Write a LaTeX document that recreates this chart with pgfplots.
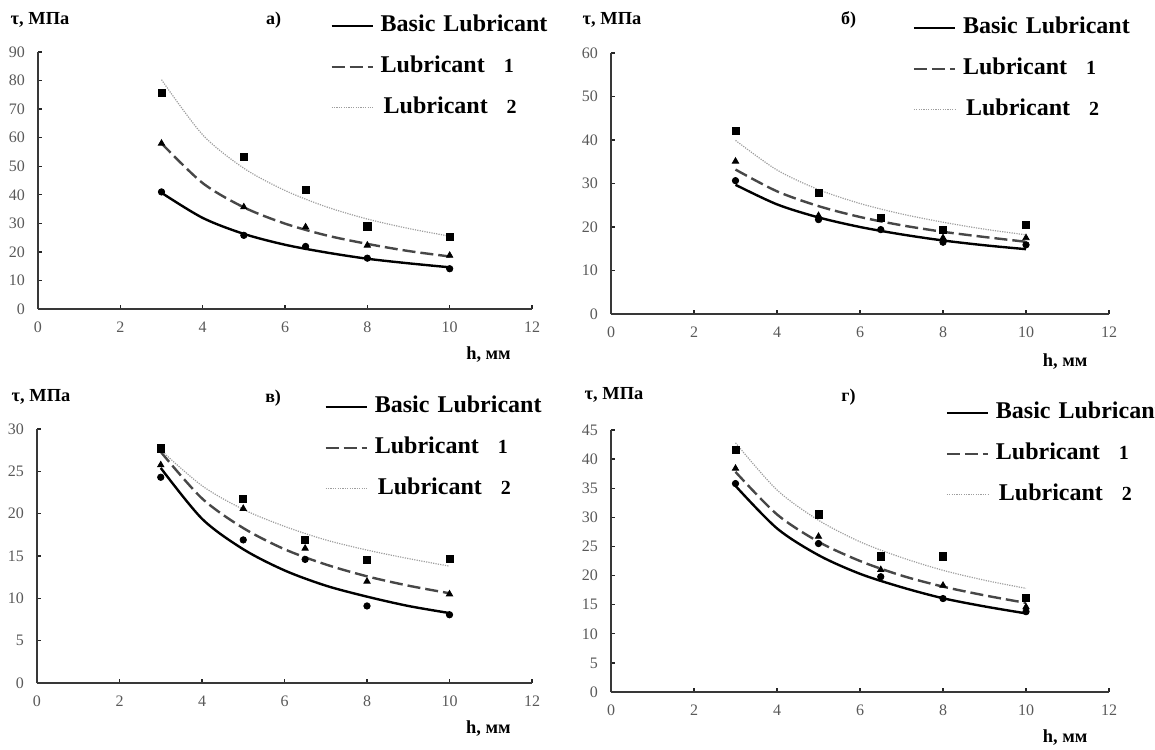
\documentclass[border=0pt]{standalone}
\usepackage{fontspec}
\setmainfont{Liberation Serif}
\usepackage{pgfplots}
\pgfplotsset{compat=1.18}

\pgfplotsset{
 panel/.style={
   scale only axis,
   xmin=0, xmax=12, ymin=0,
   axis x line*=bottom, axis y line*=left,
   axis line style={-, line width=1.1pt, black!78},
   xtick={0,2,...,12},
   tick style={black!85, line width=0.7pt},
   major tick length=2pt,
   tick label style={font=\fontsize{8}{9}\selectfont, text=black!65},
   /pgf/number format/assume math mode=true,
   xticklabel style={yshift=-3pt},
   yticklabel style={xshift=-3pt},
   xlabel={h, мм}, ylabel={τ, МПа},
   every axis title/.style={at={(axis description cs:0.477,1)}, anchor=center, yshift=16pt, font=\bfseries\fontsize{9}{10}\selectfont},
   legend style={draw=none, fill=none, anchor=north west, xshift=-4pt, font=\bfseries\fontsize{12}{13}\selectfont, row sep=9.5pt, column sep=3.5pt, nodes={inner sep=0pt, text height=8.5pt, text depth=2.5pt}},
   legend image code/.code={\draw[#1] (0pt,0pt) -- (20.5pt,0pt);},
   legend cell align=left,
   clip=false,
 },
 ylab/.style 2 args={every axis y label/.style={at={(axis description cs:0,1)}, anchor=center, xshift=#1, yshift=#2, font=\bfseries\fontsize{9.2}{10}\selectfont}},
 xlab/.style={every axis x label/.style={at={(axis description cs:0.912,0)}, anchor=center, yshift=#1, font=\bfseries\fontsize{9.2}{10}\selectfont}},
 basic/.style={black, line width=1.2pt, smooth},
 lubA/.style={black!72, line width=1.2pt, dash pattern=on 6.5pt off 2.5pt, smooth},
 lubB/.style={black!38, line width=0.6pt, dash pattern=on 0.6pt off 0.6pt, smooth},
 mc/.style={only marks, mark=*, mark size=1.6pt, black, forget plot},
 mt/.style={only marks, mark=triangle*, mark size=1.8pt, black, forget plot},
 ms/.style={only marks, mark=square*, mark size=1.8pt, black, forget plot},
}
\newcommand{\legentries}{\legend{Basic\hspace{4pt}Lubricant, Lubricant\hspace{9.5pt}{\fontsize{10}{10}\selectfont 1}, \hspace{1.5pt}Lubricant\hspace{9.5pt}{\fontsize{10}{10}\selectfont 2}}}

\begin{document}
\begin{tikzpicture}
\useasboundingbox (0,0) rectangle (577.5pt,374.5pt);

% ---------- а) ----------
\begin{axis}[panel, at={(19pt,220pt)}, anchor=south west,
  width=247pt, height=128.5pt, ymax=90, ytick={0,10,...,90},
  title={а)}, ylab={1pt}{16pt}, xlab={-23pt},
  legend style={at={(axis description cs:0.595,1)}, yshift=20.8pt}]
\addplot[basic] coordinates {(3,40.7)(4,31.9)(5,26.3)(6,22.5)(7,19.8)(8,17.6)(9,16.0)(10,14.6)};
\addplot[lubA] coordinates {(3,58.0)(4,44.1)(5,35.6)(6,29.9)(7,25.8)(8,22.8)(9,20.3)(10,18.4)};
\addplot[lubB] coordinates {(3,80.3)(4,61.0)(5,49.3)(6,41.5)(7,35.8)(8,31.5)(9,28.2)(10,25.5)};
\addplot[mc] coordinates {(3,41.0)(5,25.8)(6.5,21.9)(8,17.8)(10,14.1)};
\addplot[mt] coordinates {(3,58.0)(5,35.7)(6.5,28.7)(8,22.3)(10,18.75)};
\addplot[ms] coordinates {(3,75.6)(5,53.3)(6.5,41.8)(8,28.9)(10,25.2)};
\legentries
\end{axis}

% ---------- б) ----------
\begin{axis}[panel, at={(305.5pt,217.5pt)}, anchor=south west,
  width=249pt, height=130.5pt, ymax=60, ytick={0,10,...,60},
  title={б)}, ylab={0.5pt}{16.5pt}, xlab={-24pt},
  every axis title/.append style={yshift=0.5pt},
  legend style={at={(axis description cs:0.609,1)}, yshift=20.3pt}]
\addplot[basic] coordinates {(3,29.7)(4,25.2)(5,22.2)(6,20.0)(7,18.3)(8,16.9)(9,15.8)(10,14.9)};
\addplot[lubA] coordinates {(3,33.2)(4,28.2)(5,24.8)(6,22.3)(7,20.4)(8,18.9)(9,17.7)(10,16.6)};
\addplot[lubB] coordinates {(3,39.9)(4,33.1)(5,28.6)(6,25.4)(7,23.0)(8,21.1)(9,19.5)(10,18.2)};
\addplot[mc] coordinates {(3,30.65)(5,21.7)(6.5,19.4)(8,16.5)(10,15.9)};
\addplot[mt] coordinates {(3,35.1)(5,22.6)(6.5,21.7)(8,17.5)(10,17.5)};
\addplot[ms] coordinates {(3,42.0)(5,27.8)(6.5,22.1)(8,19.4)(10,20.5)};
\legentries
\end{axis}

% ---------- в) ----------
\begin{axis}[panel, at={(18.5pt,33pt)}, anchor=south west,
  width=247.5pt, height=127pt, ymax=30, ytick={0,5,...,30},
  title={в)}, ylab={2pt}{16pt}, xlab={-23pt},
  every axis title/.append style={yshift=-0.5pt},
  legend style={at={(axis description cs:0.584,1)}, yshift=18.8pt}]
\addplot[basic] coordinates {(3,25.4)(4,19.4)(5,15.8)(6,13.3)(7,11.5)(8,10.2)(9,9.1)(10,8.26)};
\addplot[lubA] coordinates {(3,27.3)(4,21.8)(5,18.3)(6,15.8)(7,14.0)(8,12.6)(9,11.5)(10,10.6)};
\addplot[lubB] coordinates {(3,27.5)(4,23.3)(5,20.5)(6,18.5)(7,16.9)(8,15.7)(9,14.7)(10,13.8)};
\addplot[mc] coordinates {(3,24.3)(5,16.9)(6.5,14.6)(8,9.1)(10,8.06)};
\addplot[mt] coordinates {(3,25.75)(5,20.6)(6.5,15.9)(8,12.0)(10,10.5)};
\addplot[ms] coordinates {(3,27.7)(5,21.7)(6.5,16.9)(8,14.5)(10,14.7)};
\legentries
\end{axis}

% ---------- г) ----------
\begin{axis}[panel, at={(305.5pt,28.5pt)}, anchor=south west,
  width=249pt, height=131pt, ymax=45, ytick={0,5,...,45},
  title={г)}, ylab={1.5pt}{17.5pt}, xlab={-23pt},
  every axis title/.append style={yshift=0.5pt},
  legend style={at={(axis description cs:0.675,1)}, yshift=16.3pt}]
\addplot[basic] coordinates {(3,35.4)(4,28.1)(5,23.5)(6,20.3)(7,18.0)(8,16.1)(9,14.7)(10,13.5)};
\addplot[lubA] coordinates {(3,37.8)(4,30.5)(5,25.8)(6,22.5)(7,20.0)(8,18.1)(9,16.6)(10,15.3)};
\addplot[lubB] coordinates {(3,42.8)(4,34.7)(5,29.5)(6,25.8)(7,23.1)(8,20.9)(9,19.2)(10,17.8)};
\addplot[mc] coordinates {(3,35.8)(5,25.5)(6.5,19.8)(8,16.05)(10,13.8)};
\addplot[mt] coordinates {(3,38.4)(5,26.7)(6.5,21.0)(8,18.3)(10,14.6)};
\addplot[ms] coordinates {(3,41.6)(5,30.5)(6.5,23.3)(8,23.3)(10,16.2)};
\legentries
\end{axis}
\end{tikzpicture}
\end{document}
